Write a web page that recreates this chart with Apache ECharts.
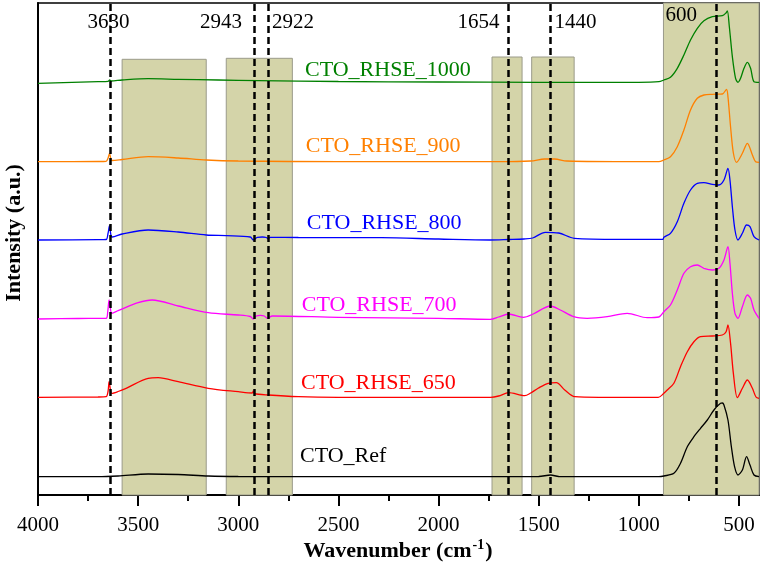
<!DOCTYPE html>
<html><head><meta charset="utf-8">
<script src="https://cdn.jsdelivr.net/npm/echarts@6/dist/echarts.min.js"></script>
<style>html,body{margin:0;padding:0;background:#fff}#c{width:762px;height:571px}</style>
</head><body><div id="c"></div>
<script>
// ---- data ----
const xTicks = [4000, 3500, 3000, 2500, 2000, 1500, 1000, 500];
const xMinorTicks = [3750, 3250, 2750, 2250, 1750, 1250, 750];
const seriesNames = ['CTO_Ref', 'CTO_RHSE_650', 'CTO_RHSE_700', 'CTO_RHSE_800', 'CTO_RHSE_900', 'CTO_RHSE_1000'];
const seriesColors = ['#000000', '#ff0000', '#ff00ff', '#0000ff', '#ff8000', '#008000'];

const ctoRef = [[4000,18.3],[3700,18.3],[3600,19],[3450,21],[3300,20.5],[3150,19],[3000,18.5],[2500,18.3],[2000,18.3],[1500,18.5],[1440,20],[1400,18.5],[1000,18.3],[900,18.3],[875,19],[825,21.7],[792,31.7],[758,48.3],[725,58.3],[692,66.7],[658,75],[625,85],[592,91.7],[583,92],[575,90],[555,75],[538,48.3],[522,28.3],[505,20],[483,25],[462,38.3],[445,30],[425,20],[400,18.3]];
const rhse650 = [[4000,97.7],[3700,98],[3660,98.3],[3650,104],[3645,113.3],[3638,105],[3632,101.7],[3600,103.5],[3560,106.7],[3450,116.7],[3400,117.3],[3300,113.3],[3150,106.7],[3000,103.3],[2930,102],[2925,104],[2920,101.5],[2850,100],[2700,98.3],[2500,97.7],[2000,97.7],[1740,97.7],[1700,99],[1650,102.3],[1570,99.3],[1540,102],[1503,106.7],[1453,111.7],[1412,112.3],[1370,105],[1320,98.3],[1200,97.7],[903,97.7],[875,101.7],[858,105],[825,111.7],[792,128.3],[758,143.3],[725,153.3],[692,158.3],[633,159],[583,160],[565,163],[555,170],[542,151.7],[528,121.7],[508,97.3],[483,106.7],[458,115],[433,106.7],[415,98],[400,96.7]];
const rhse700 = [[4000,176],[3800,176.5],[3660,176.7],[3652,183],[3645,195],[3638,186],[3632,181.7],[3600,184.3],[3500,192.3],[3430,195],[3300,189],[3150,182.3],[3000,180],[2940,178.5],[2925,176],[2910,179],[2890,179.7],[2870,179],[2855,176.7],[2830,179],[2500,177.7],[2000,176.7],[1742,175.7],[1700,178],[1650,181],[1577,177.7],[1527,181],[1442,189],[1392,185],[1325,178.3],[1258,176.7],[1158,178.3],[1058,181.7],[958,177.3],[900,178],[875,183.3],[842,190],[808,205],[775,221.7],[742,228.3],[708,230],[675,226.7],[633,225],[600,226.7],[575,235],[555,248.3],[545,231.7],[533,201.7],[520,181.7],[505,176.7],[483,188.3],[458,200],[442,196.7],[425,185],[400,176.7]];
const rhse800 = [[4000,255],[3700,255.3],[3660,255.5],[3650,262],[3643,269.3],[3636,260],[3630,258],[3580,261],[3450,265],[3300,263],[3160,260],[3060,259.3],[2940,258],[2925,255],[2905,257.7],[2880,258],[2860,257.5],[2852,256.3],[2840,257.7],[2700,257.5],[2285,257.3],[2000,256],[1743,255],[1650,255.5],[1574,256],[1530,257],[1467,262.7],[1400,262],[1322,256.7],[1100,255.7],[880,255.7],[875,257.7],[842,261.7],[808,273.3],[775,291.7],[742,305],[708,311.7],[675,312.3],[633,310.7],[600,310],[575,315],[555,326.7],[545,315],[533,288.3],[520,265],[505,255],[483,261.7],[462,270],[445,268.3],[425,258.3],[400,255]];
const rhse900 = [[4000,333.3],[3700,333.5],[3660,333.7],[3650,337],[3643,341.7],[3636,336],[3630,334.5],[3580,335.5],[3450,338.3],[3300,337],[3160,335],[3000,334],[2500,333.3],[2000,333.3],[1700,333.3],[1540,334],[1470,336],[1420,336],[1360,334],[1000,333.3],[900,333.3],[875,335],[842,338.3],[808,348.3],[775,365],[742,385],[708,396.7],[675,400],[633,400.7],[583,401],[562,405.7],[555,398.3],[542,368.3],[528,342],[512,332.7],[483,341.7],[458,351.7],[433,340],[417,333.3],[400,332.7]];
const rhse1000 = [[4000,411.7],[3700,413.3],[3650,413.7],[3642,415],[3635,414],[3580,415],[3450,416.3],[3300,415.7],[3100,415],[2900,414.3],[2500,413.5],[2000,413],[1500,412.7],[1000,412.7],[900,413.3],[875,415],[842,417.7],[808,426.7],[775,440],[742,455],[708,466.7],[675,474.3],[633,478.3],[583,479.3],[565,482],[558,484],[548,468],[533,438.3],[517,416.7],[505,412.7],[492,416.7],[475,426.7],[458,432.7],[442,426.7],[425,413.3],[400,412.7]];
const seriesData = [ctoRef, rhse650, rhse700, rhse800, rhse900, rhse1000];

// shaded bands: [from, to, top]
const bands = [[3580,3160,435.7],[3060,2730,436.7],[1733,1583,438],[1535,1323,438],[877,400,492]];
// dashed peak lines and their labels
const peakLines = [3637, 2922, 2849, 1654, 1441, 611];
const peakLabels = ['3630', '2943', '2922', '1654', '1440', '600'];

// ---- layout (label anchors in axis coordinates) ----
const seriesLabelPos = [[2692,38.3],[2687,112],[2683,190],[2658,272],[2663,348.3],[2667,425]];
const peakLabelPos = [[3648,472.5,'center'],[2981,472.5,'right'],[2831,472.5,'left'],[1696,472.5,'right'],[1421,472.5,'left'],[867,479.2,'left']];

const FONT = '"Liberation Serif", "Times New Roman", serif';
const chart = echarts.init(document.getElementById('c'), null, {renderer: 'canvas'});

const series = [];
series.push({
  type: 'line', data: [], z: 1, silent: true,
  markArea: {
    silent: true,
    itemStyle: {color: '#d4d4a9', borderColor: '#9a9a8a', borderWidth: 1},
    data: bands.map(b => [{xAxis: b[0], yAxis: b[2]}, {xAxis: b[1], yAxis: 0}])
  }
});
seriesData.forEach((d, i) => {
  series.push({
    name: seriesNames[i], type: 'line', data: d, z: 2,
    showSymbol: false, symbol: 'none', smooth: 0.3,
    lineStyle: {color: seriesColors[i], width: 1.3},
    itemStyle: {color: seriesColors[i]}
  });
});
series.push({
  type: 'line', data: [], z: 3, silent: true,
  markLine: {
    silent: true, symbol: 'none', label: {show: false},
    lineStyle: {color: '#000', width: 2.5, type: [7, 4]},
    data: peakLines.map(v => ({xAxis: v}))
  }
});

chart.setOption({
  animation: false,
  backgroundColor: '#fff',
  grid: {left: 38, right: 3, top: 3, bottom: 76, show: true, borderColor: '#000', borderWidth: 1.5, backgroundColor: 'transparent'},
  xAxis: [{
    type: 'value', min: 400, max: 4000, inverse: true,
    axisLine: {show: true, lineStyle: {color: '#000', width: 2}},
    axisTick: {show: true, length: 11, inside: false, lineStyle: {color: '#000', width: 2}, customValues: xTicks},
    axisLabel: {show: true, color: '#000', fontFamily: FONT, fontSize: 21, margin: 20, customValues: xTicks, formatter: v => String(v)},
    splitLine: {show: false}
  }, {
    type: 'value', min: 400, max: 4000, inverse: true, position: 'bottom',
    axisLine: {show: false},
    axisTick: {show: true, length: 6, lineStyle: {color: '#000', width: 2}, customValues: xMinorTicks},
    axisLabel: {show: false, customValues: xMinorTicks},
    splitLine: {show: false}
  }],
  yAxis: {
    type: 'value', min: 0, max: 492,
    axisLine: {show: true, lineStyle: {color: '#000', width: 2}},
    axisTick: {show: false}, axisLabel: {show: false}, splitLine: {show: false}
  },
  series: series
});

const g = [];
seriesLabelPos.forEach((p, i) => {
  const px = chart.convertToPixel({xAxisIndex: 0, yAxisIndex: 0}, p);
  g.push({type: 'text', x: px[0], y: px[1], z: 10, silent: true,
    style: {text: seriesNames[i], fill: seriesColors[i], fontFamily: FONT, fontSize: 22, align: 'left', verticalAlign: 'middle'}});
});
peakLabelPos.forEach((p, i) => {
  const px = chart.convertToPixel({xAxisIndex: 0, yAxisIndex: 0}, [p[0], p[1]]);
  g.push({type: 'text', x: px[0], y: px[1], z: 10, silent: true,
    style: {text: peakLabels[i], fill: '#000', fontFamily: FONT, fontSize: 21, align: p[2], verticalAlign: 'middle'}});
});
g.push({type: 'text', x: 14, y: 233, rotation: Math.PI / 2, z: 10, silent: true,
  style: {text: 'Intensity (a.u.)', fill: '#000', fontFamily: FONT, fontSize: 22, fontWeight: 'bold', align: 'center', verticalAlign: 'middle'}});
g.push({type: 'text', x: 398, y: 551, z: 10, silent: true,
  style: {text: '{a|Wavenumber (cm}{s|-1}{a|)}', align: 'center', verticalAlign: 'middle',
    rich: {
      a: {fontFamily: FONT, fontSize: 22, fontWeight: 'bold', fill: '#000', lineHeight: 26},
      s: {fontFamily: FONT, fontSize: 14, fontWeight: 'bold', fill: '#000', lineHeight: 26, padding: [0, 1, 12, 1]}
    }}});
chart.setOption({graphic: g});
</script></body></html>
